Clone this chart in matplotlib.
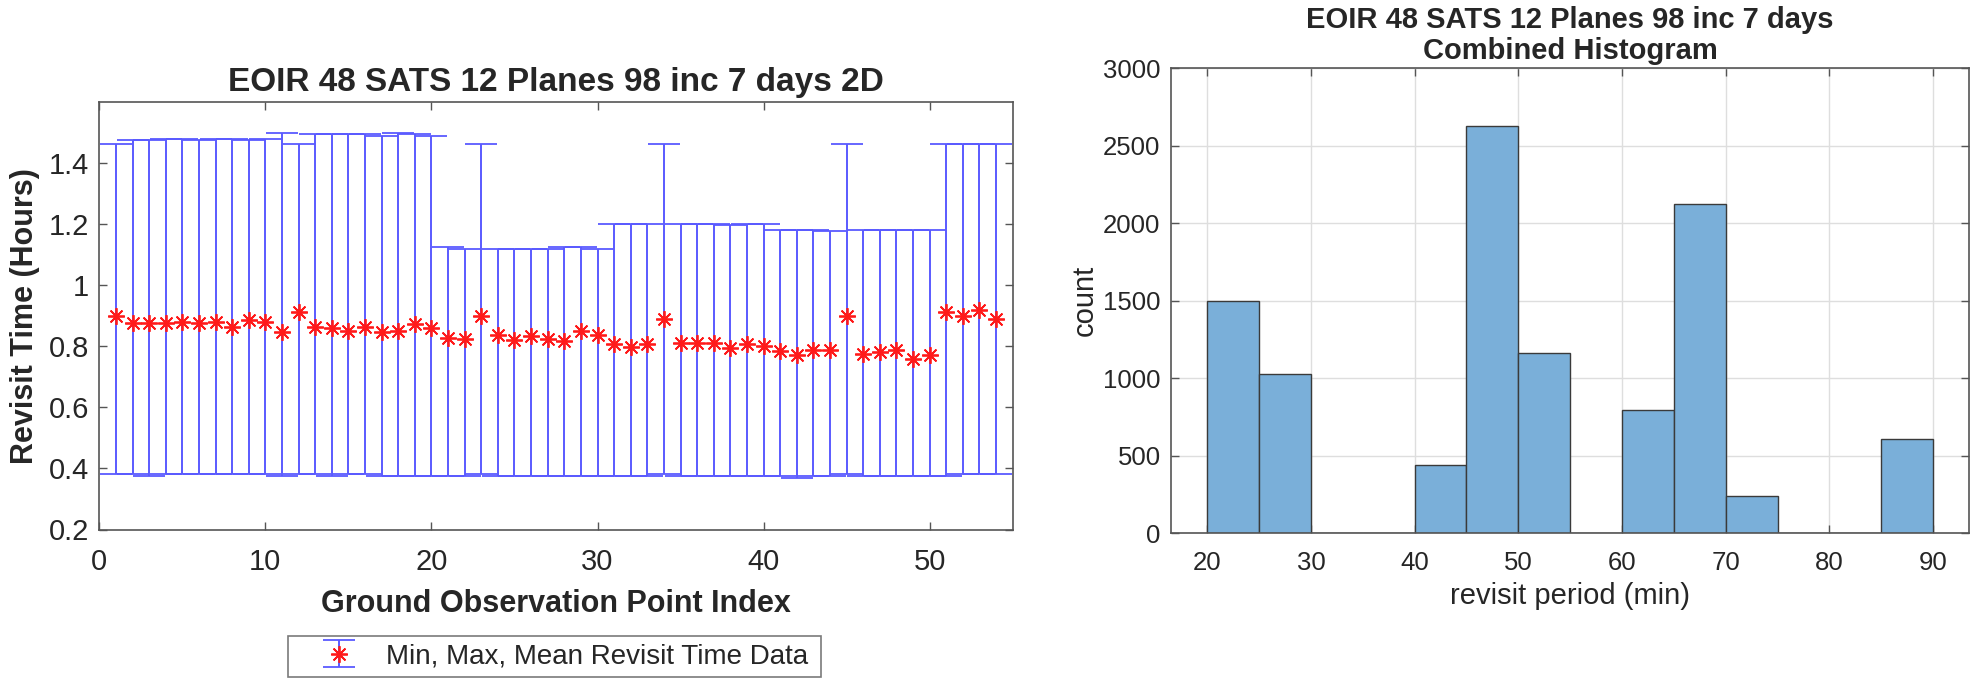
import numpy as np
import matplotlib
matplotlib.use("Agg")
import matplotlib.pyplot as plt
from matplotlib.patches import Rectangle

plt.rcParams['font.family'] = ['Liberation Sans', 'DejaVu Sans']

# ---------------- data ----------------
point_index = list(range(1, 55))
mean_hours = [0.898, 0.875, 0.875, 0.875, 0.878, 0.875, 0.880, 0.864, 0.884, 0.880,
              0.846, 0.911, 0.864, 0.859, 0.851, 0.862, 0.846, 0.851, 0.871, 0.860,
              0.827, 0.823, 0.898, 0.835, 0.821, 0.833, 0.824, 0.816, 0.849, 0.835,
              0.806, 0.797, 0.808, 0.889, 0.810, 0.810, 0.810, 0.795, 0.808, 0.799,
              0.784, 0.772, 0.786, 0.786, 0.898, 0.773, 0.780, 0.788, 0.759, 0.772,
              0.911, 0.900, 0.918, 0.889]
max_hours = [1.462, 1.475, 1.475, 1.479, 1.479, 1.475, 1.479, 1.479, 1.475, 1.479,
             1.498, 1.462, 1.493, 1.493, 1.493, 1.493, 1.488, 1.498, 1.493, 1.488,
             1.123, 1.119, 1.462, 1.119, 1.119, 1.119, 1.119, 1.123, 1.123, 1.119,
             1.199, 1.199, 1.199, 1.462, 1.199, 1.199, 1.199, 1.195, 1.199, 1.199,
             1.180, 1.180, 1.180, 1.176, 1.462, 1.180, 1.180, 1.180, 1.180, 1.180,
             1.462, 1.462, 1.462, 1.462]
min_hours = [0.380, 0.380, 0.374, 0.380, 0.380, 0.380, 0.380, 0.380, 0.380, 0.380,
             0.374, 0.380, 0.380, 0.374, 0.380, 0.380, 0.374, 0.374, 0.374, 0.374,
             0.374, 0.374, 0.380, 0.374, 0.374, 0.374, 0.374, 0.374, 0.374, 0.374,
             0.374, 0.374, 0.374, 0.380, 0.374, 0.374, 0.374, 0.374, 0.374, 0.374,
             0.374, 0.369, 0.374, 0.374, 0.380, 0.374, 0.374, 0.374, 0.374, 0.374,
             0.374, 0.380, 0.380, 0.380]

bin_edges = [20, 25, 30, 35, 40, 45, 50, 55, 60, 65, 70, 75, 80, 85, 90]
bin_counts = [1500, 1028, 0, 0, 441, 2628, 1161, 0, 794, 2126, 241, 0, 0, 606]

left_title = "EOIR 48 SATS 12 Planes 98 inc 7 days 2D"
right_title = "EOIR 48 SATS 12 Planes 98 inc 7 days\nCombined Histogram"

# ---------------- style ----------------
TXT = '#262626'
AX = '#555555'
W, H = 1977, 681
fig = plt.figure(figsize=(W / 100, H / 100), dpi=100)

def frac(l, t, r, b):
    return [l / W, 1 - b / H, (r - l) / W, (b - t) / H]

# ---------------- left: error bars ----------------
ax1 = fig.add_axes(frac(99.3, 101.7, 1012.7, 529.5))
x = np.array(point_index)
m = np.array(mean_hours)
lo = m - np.array(min_hours)
hi = np.array(max_hours) - m
ax1.errorbar(x, m, yerr=[lo, hi], linestyle='none', marker=(8, 2, 0), markersize=12,
             mec='#ff1a1a', mfc='#ff1a1a', mew=1.3, ecolor='#5a5aff', elinewidth=1.4,
             capsize=11.5, capthick=1.4, label='Min, Max, Mean Revisit Time Data')
ax1.set_xlim(0, 55)
ax1.set_ylim(0.2, 1.6)
ax1.set_xticks([0, 10, 20, 30, 40, 50])
ax1.set_yticks([0.2, 0.4, 0.6, 0.8, 1.0, 1.2, 1.4])
ax1.set_yticklabels(['0.2', '0.4', '0.6', '0.8', '1', '1.2', '1.4'])
ax1.set_title(left_title, fontsize=24, fontweight='bold', color=TXT, pad=8)
ax1.set_xlabel('Ground Observation Point Index', fontsize=22, fontweight='bold', color=TXT, labelpad=10)
ax1.set_ylabel('Revisit Time (Hours)', fontsize=22, fontweight='bold', color=TXT, labelpad=6)

# legend (frame drawn separately to match the reference's box)
leg = ax1.legend(loc='center left', bbox_to_anchor=(325 / W, 1 - 656.5 / H),
                 bbox_transform=fig.transFigure, fontsize=20, frameon=False,
                 borderpad=0, handlelength=1.0, handletextpad=1.19, borderaxespad=0,
                 handleheight=0.8)
for t in leg.get_texts():
    t.set_color(TXT)
fig.add_artist(Rectangle((288 / W, 1 - 677 / H), 533 / W, 41 / H, transform=fig.transFigure,
                         fill=False, edgecolor='#7a7a7a', linewidth=1.2))

# ---------------- right: histogram ----------------
ax2 = fig.add_axes(frac(1171, 68.3, 1969.3, 533.3))
edges = np.array(bin_edges)
ax2.bar(edges[:-1], bin_counts, width=np.diff(edges), align='edge',
        color='#7aafd9', edgecolor='#3a3a3a', linewidth=1.0, zorder=2)
ax2.set_xlim(16.5, 93.5)
ax2.set_ylim(0, 3000)
ax2.set_xticks([20, 30, 40, 50, 60, 70, 80, 90])
ax2.set_yticks([0, 500, 1000, 1500, 2000, 2500, 3000])
ax2.grid(True, color='#dedede', linewidth=1.0, zorder=0)
ax2.set_axisbelow(True)
ax2.set_title(right_title, fontsize=21, fontweight='bold', color=TXT, pad=7, linespacing=1.1)
ax2.set_xlabel('revisit period (min)', fontsize=21, color=TXT, labelpad=5)
ax2.set_ylabel('count', fontsize=21, color=TXT, labelpad=3)

for ax, fs in ((ax1, 21), (ax2, 18.5)):
    for s in ax.spines.values():
        s.set_color(AX)
        s.set_linewidth(1.2)
    ax.tick_params(direction='in', length=6, width=1.0, color=AX, top=True, right=True,
                   labelsize=fs, labelcolor=TXT)
    ax.tick_params(axis='x', pad=13)
    ax.tick_params(axis='y', pad=7.5)

fig.savefig('out.png', dpi=100, facecolor='white')
